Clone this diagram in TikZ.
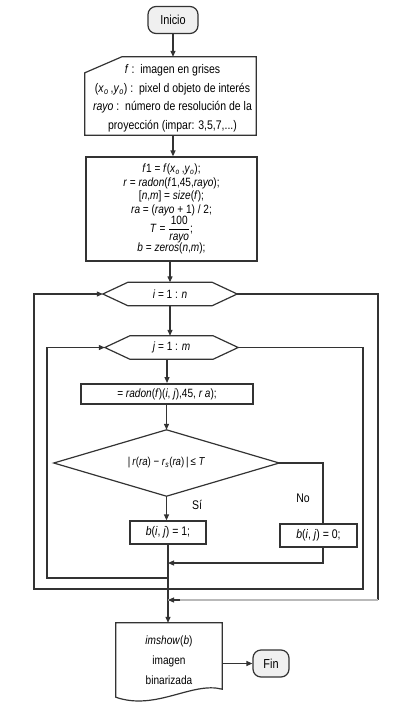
\documentclass[tikz,border=0pt]{standalone}
\usepackage{fontspec}
\usepackage{amsmath}
\setmainfont{Liberation Sans}[FakeStretch=0.84]
\usetikzlibrary{arrows.meta,calc}
\definecolor{lc}{HTML}{333333}
\newcommand{\vsub}[1]{\textsubscript{\textit{#1}}}
\begin{document}
\begin{tikzpicture}[x=1pt,y=-1pt,
  line/.style={draw=lc, line width=1.2pt},
  arr/.style={line, -{Triangle[length=6pt,width=5pt]}},
  term/.style={draw=lc, line width=1.2pt, fill=gray!12, rounded corners=8pt, inner sep=0pt, font=\fontsize{13}{15}\selectfont},
  plain/.style={inner sep=0pt},
  procbox/.style={draw=lc, line width=1.2pt, inner sep=0pt}
]
\useasboundingbox (0,0) rectangle (410,710);

% terminal start
\node[term, minimum width=50pt, minimum height=27pt] (ini) at (173,20) {Inicio};

% manual input (outline node + text)
\node[plain, minimum width=171pt, minimum height=78pt] (inp) at (170.5,96) {};
\draw[line] (inp.south west) -- ($(inp.north west)+(0,16)$) -- ($(inp.north west)+(37,0)$)
  -- (inp.north east) -- (inp.south east) -- cycle;
\node[plain, align=center, font=\fontsize{12.5}{18.5}\selectfont] (inptext) at (172.5,98.5)
  {\textit{f} :\ \ imagen en grises\\
   (\textit{x}\vsub{o}\,,\textit{y}\vsub{o}) :\ \ pixel d objeto de interés\\
   \textit{rayo} :\ \ número de resolución de la\\
   proyección (impar: 3,5,7,...)};

% process block
\node[procbox, minimum width=171pt, minimum height=104pt, align=center,
      font=\fontsize{12}{13.5}\selectfont] (b2) at (171.5,209)
  {\textit{f}1 = \textit{f}(\textit{x}\vsub{o}\,,\textit{y}\vsub{o});\\
   \textit{r} = \textit{radon}(\textit{f}1,45,\textit{rayo});\\
   {[}\textit{n},\textit{m}] = \textit{size}(\textit{f});\\
   \textit{ra} = (\textit{rayo} + 1) / 2;\\[-1pt]
   \textit{T} = $\dfrac{\text{100}}{\text{\textit{rayo}}}$;\\[-1pt]
   \textit{b} = \textit{zeros}(\textit{n},\textit{m});};

% loop i
\node[plain, minimum width=134pt, minimum height=23pt, font=\fontsize{12}{13}\selectfont] (ih) at (170,294)
  {\textit{i} = 1 : \textit{n}};
\draw[line] (ih.west) -- ($(ih.north west)+(25,0)$) -- ($(ih.north east)+(-25,0)$) -- (ih.east)
  -- ($(ih.south east)+(-25,0)$) -- ($(ih.south west)+(25,0)$) -- cycle;

% loop j
\node[plain, minimum width=133pt, minimum height=23pt, font=\fontsize{12}{13}\selectfont] (jh) at (171.5,347.5)
  {\textit{j} = 1 : \textit{m}};
\draw[line] (jh.west) -- ($(jh.north west)+(25,0)$) -- ($(jh.north east)+(-25,0)$) -- (jh.east)
  -- ($(jh.south east)+(-25,0)$) -- ($(jh.south west)+(25,0)$) -- cycle;

% radon box
\node[procbox, line width=2pt, minimum width=172pt, minimum height=20pt, font=\fontsize{12}{13}\selectfont] (rd) at (167,394)
  {= \textit{radon}(\textit{f})(\textit{i}, \textit{j}),45, \textit{r a});};

% decision
\node[plain, minimum width=225pt, minimum height=66pt, font=\fontsize{11.5}{13}\selectfont] (dm) at (166.5,463)
  {|\,\textit{r}(\textit{ra}) − \textit{r}\vsub{s}(\textit{ra})\,|\,≤ \textit{T}};
\draw[line] (dm.north) -- (dm.east) -- (dm.south) -- (dm.west) -- cycle;

% results
\node[procbox, minimum width=76pt, minimum height=23pt, font=\fontsize{12.5}{13}\selectfont] (b1) at (168,532.5)
  {\textit{b}(\textit{i}, \textit{j}) = 1;};
\node[procbox, minimum width=77pt, minimum height=23pt, font=\fontsize{12.5}{13}\selectfont] (b0) at (318.5,535.5)
  {\textit{b}(\textit{i}, \textit{j}) = 0;};

\node[plain, font=\fontsize{12.5}{14}\selectfont] (si) at (197,505) {Sí};
\node[plain, font=\fontsize{12.5}{14}\selectfont] (no) at (303,498) {No};

% document output
\node[plain, minimum width=106pt, minimum height=74pt, align=center,
      font=\fontsize{12}{20}\selectfont] (doc) at (169,660)
  {\textit{imshow}(\textit{b})\\imagen\\binarizada};
\draw[line] (doc.north west) -- (doc.north east) -- ($(doc.south east)+(0,-8)$)
  .. controls ($(doc.south east)+(-30,-16)$) and ($(doc.south west)+(40,14)$) .. (doc.south west) -- cycle;

\node[term, minimum width=36pt, minimum height=27pt] (fin) at (271,663.5) {Fin};

% helper coordinates
\coordinate (bx) at (323,0);
\coordinate (m1) at (168,563);
\coordinate (m2) at (168,578);
\coordinate (lx) at (47,0);
\coordinate (rx) at (363,0);
\coordinate (ox) at (34,0);
\coordinate (m3) at (0,589);
\coordinate (rx2) at (378,0);
\coordinate (m4) at (168,600);

% connectors
\draw[arr] (ini.south) -- (ini.south |- inp.north);
\draw[arr] (ini.south |- inp.south) -- (ini.south |- b2.north);
\draw[arr] (ih.north |- b2.south) -- (ih.north);
\draw[arr] (ih.south) -- (ih.south |- jh.north);
\draw[arr] (rd.north |- jh.south) -- (rd.north);
\draw[arr] (dm.north |- rd.south) -- (dm.north);
\draw[arr] (dm.south) -- (dm.south |- b1.north);
\draw[line] (dm.east) -| (bx |- b0.north);
\draw[arr] (bx |- b0.south) |- (m1);
\draw[arr] (b1.south) -- (b1.south |- doc.north);
\draw[arr] (m2) -| (lx |- jh.west) -- (jh.west);
\draw[arr] (jh.east) -- (rx |- jh.east) -- (rx |- m3) -- (ox |- m3) -- (ox |- ih.west) -- (ih.west);
\draw[line] (ih.east) -- (rx2 |- ih.east) -- (rx2 |- m4);
\draw[line, draw=gray!55] (rx2 |- m4) -- (m4);
\draw[arr] ($(m4)+(12,0)$) -- (m4);
\draw[arr] (doc.east |- fin.west) -- (fin.west);
\end{tikzpicture}
\end{document}
